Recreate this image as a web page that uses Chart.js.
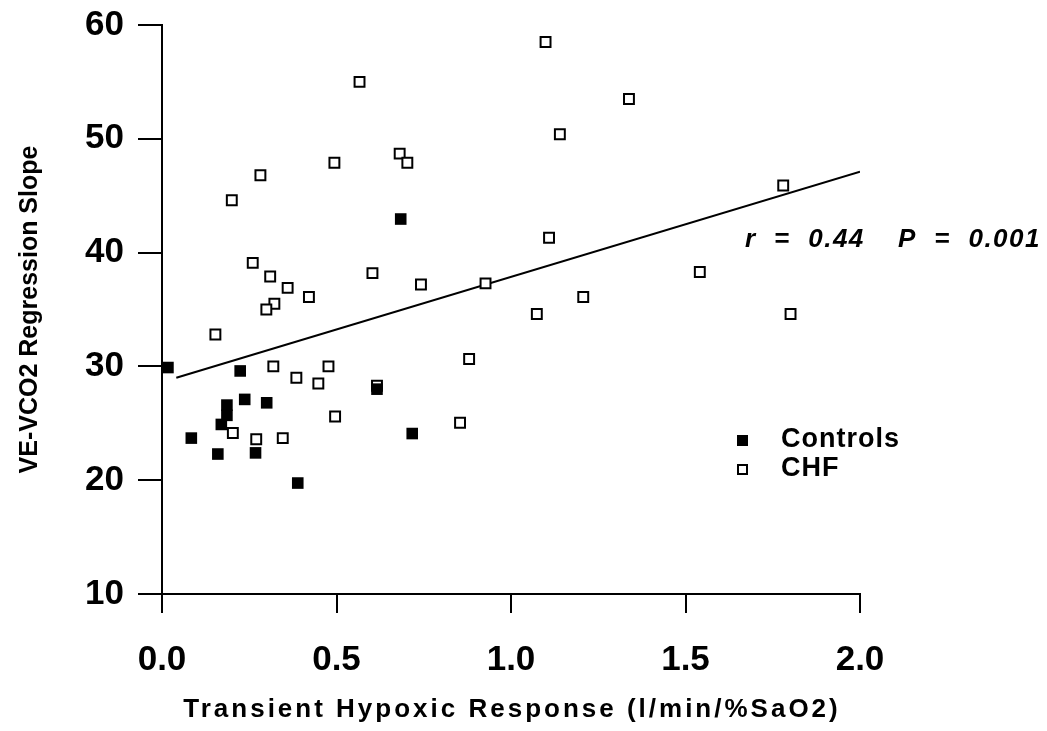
<!DOCTYPE html>
<html>
<head>
<meta charset="utf-8">
<script src="https://cdn.jsdelivr.net/npm/chart.js@4/dist/chart.umd.min.js"></script>
<style>
  html, body { margin: 0; padding: 0; background: #fff; }
  #wrap { width: 1047px; height: 731px; position: relative; }
</style>
</head>
<body>
<div id="wrap"><canvas id="c" width="1047" height="731"></canvas></div>
<script>
// ---- Data ----
const controlsX = [0.017, 0.224, 0.684, 0.616, 0.186, 0.237, 0.300, 0.186, 0.170, 0.084, 0.717, 0.160, 0.268, 0.389];
const controlsY = [29.9, 29.6, 42.95, 28.0, 26.6, 27.1, 26.8, 25.7, 24.9, 23.7, 24.1, 22.3, 22.4, 19.75];

const chfX = [1.099, 0.566, 1.338, 1.140, 0.681, 0.703, 0.494, 0.282, 1.780, 0.200, 1.109, 0.260,
              0.603, 1.541, 0.310, 0.742, 0.927, 0.360, 0.421, 1.207, 0.322, 0.299, 1.074, 1.801,
              0.153, 0.880, 0.319, 0.477, 0.385, 0.448, 0.616, 0.496, 0.854, 0.203, 0.270, 0.346];
const chfY = [58.5, 55.0, 53.5, 50.4, 48.7, 47.9, 47.9, 46.8, 45.9, 44.6, 41.3, 39.1,
              38.2, 38.3, 37.9, 37.2, 37.3, 36.9, 36.1, 36.1, 35.5, 35.0, 34.6, 34.6,
              32.8, 30.65, 30.0, 30.0, 29.0, 28.5, 28.3, 25.6, 25.05, 24.15, 23.6, 23.7];

const fitX = [0.041, 2.0];
const fitY = [29.0, 47.1];

const xTicks = [0.0, 0.5, 1.0, 1.5, 2.0];
const yTicks = [10, 20, 30, 40, 50, 60];

const seriesNames = ['Controls', 'CHF'];
const annotationText = ['r  =  0.44', 'P  =  0.001'];
const xTitle = 'Transient Hypoxic Response (l/min/%SaO2)';
const yTitle = 'VE-VCO2 Regression Slope';

// ---- Build ----
const zip = (xs, ys) => xs.map((x, i) => ({ x: x, y: ys[i] }));
const FONT = "'Liberation Sans', Arial, Helvetica, sans-serif";

const textPlugin = {
  id: 'insideText',
  afterDatasetsDraw(chart) {
    const ctx = chart.ctx;
    const area = chart.chartArea;
    ctx.save();
    ctx.fillStyle = '#000';
    ctx.textBaseline = 'middle';
    ctx.textAlign = 'left';
    // annotation
    ctx.font = "italic bold 26px " + FONT;
    if ('letterSpacing' in ctx) ctx.letterSpacing = '1.5px';
    ctx.fillText(annotationText[0], 745, 240);
    ctx.fillText(annotationText[1], 898, 240);
    // legend
    ctx.font = "bold 27px " + FONT;
    if ('letterSpacing' in ctx) ctx.letterSpacing = '1px';
    const items = [
      { name: seriesNames[0], filled: true, y: 440 },
      { name: seriesNames[1], filled: false, y: 469 }
    ];
    items.forEach(it => {
      if (it.filled) {
        ctx.fillStyle = '#000';
        ctx.fillRect(737, it.y - 5, 11, 11);
      } else {
        ctx.strokeStyle = '#000';
        ctx.lineWidth = 2;
        ctx.strokeRect(738, it.y - 4, 9, 9);
      }
      ctx.fillStyle = '#000';
      ctx.fillText(it.name, 781, it.y);
    });
    // x-axis title (letter-spaced)
    ctx.font = "bold 26px " + FONT;
    if ('letterSpacing' in ctx) ctx.letterSpacing = '3px';
    ctx.textAlign = 'center';
    ctx.fillText(xTitle, (area.left + area.right) / 2 + 1, 710);
    ctx.restore();
  }
};

new Chart(document.getElementById('c'), {
  type: 'scatter',
  data: {
    datasets: [
      {
        label: seriesNames[0],
        data: zip(controlsX, controlsY),
        pointStyle: 'rect',
        pointRadius: 8.2,
        backgroundColor: '#000',
        borderColor: '#000',
        borderWidth: 0
      },
      {
        label: seriesNames[1],
        data: zip(chfX, chfY),
        pointStyle: 'rect',
        pointRadius: 7,
        backgroundColor: '#fff',
        borderColor: '#000',
        borderWidth: 2
      },
      {
        type: 'line',
        label: 'fit',
        data: zip(fitX, fitY),
        borderColor: '#000',
        borderWidth: 2,
        pointRadius: 0,
        fill: false,
        tension: 0
      }
    ]
  },
  options: {
    responsive: false,
    animation: false,
    events: [],
    layout: { padding: { left: 0, top: 25, right: 187, bottom: 0 } },
    plugins: { legend: { display: false }, tooltip: { enabled: false } },
    scales: {
      x: {
        type: 'linear',
        min: 0, max: 2,
        afterFit(s) { s.height = 137; s.paddingLeft = 0; s.paddingRight = 0; },
        afterBuildTicks(s) { s.ticks = xTicks.map(v => ({ value: v })); },
        ticks: {
          color: '#000',
          font: { family: FONT, size: 35, weight: 'bold' },
          padding: 26,
          maxRotation: 0,
          callback: v => Number(v).toFixed(1)
        },
        grid: { display: true, drawOnChartArea: false, drawTicks: true, tickLength: 19, color: '#000', lineWidth: 2 },
        border: { display: true, color: '#000', width: 2 },
        title: { display: false }
      },
      y: {
        type: 'linear',
        min: 10, max: 60,
        afterFit(s) { s.width = 162; s.paddingTop = 0; s.paddingBottom = 0; },
        afterBuildTicks(s) { s.ticks = yTicks.map(v => ({ value: v })); },
        ticks: {
          color: '#000',
          font: { family: FONT, size: 35, weight: 'bold' },
          padding: 14
        },
        grid: { display: true, drawOnChartArea: false, drawTicks: true, tickLength: 24, color: '#000', lineWidth: 2 },
        border: { display: true, color: '#000', width: 2 },
        title: {
          display: true, text: yTitle, color: '#000',
          font: { family: FONT, size: 25, weight: 'bold' },
          padding: { top: 15, bottom: 0 }
        }
      }
    }
  },
  plugins: [textPlugin]
});
</script>
</body>
</html>
